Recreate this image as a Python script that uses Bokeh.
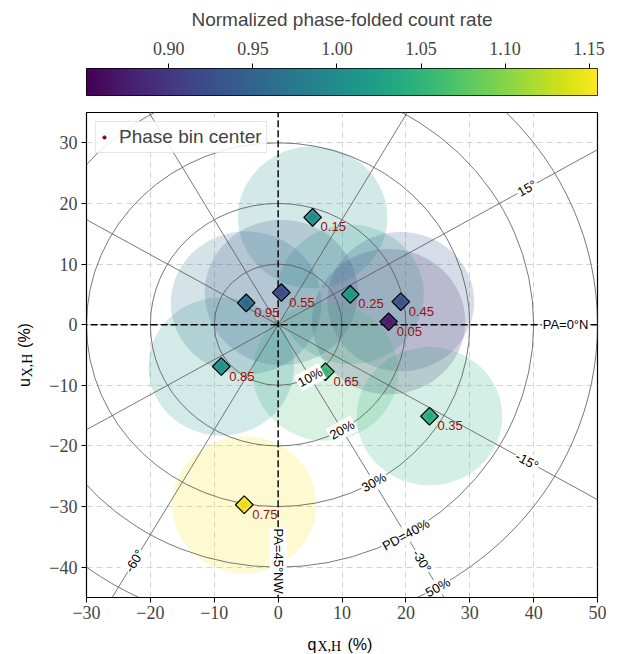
import numpy as np
from bokeh.plotting import figure
from bokeh.models import (ColumnDataSource, LinearColorMapper, Range1d, FixedTicker,
                          NumeralTickFormatter, Legend, LegendItem)
from bokeh.layouts import column, row
from bokeh.palettes import Viridis256
from bokeh.transform import linear_cmap
from bokeh.core.properties import value
from bokeh.embed import file_html
from bokeh.resources import INLINE

# ---------------- data ----------------
phase = ["0.05", "0.15", "0.25", "0.35", "0.45", "0.55", "0.65", "0.75", "0.85", "0.95"]
q_pct = [17.3, 5.4, 11.3, 23.7, 19.2, 0.5, 7.4, -5.3, -8.9, -5.0]
u_pct = [0.5, 17.7, 5.0, -15.1, 3.8, 5.3, -7.75, -29.7, -6.9, 3.6]
rate = [0.875, 1.003, 1.020, 1.043, 0.933, 0.924, 1.058, 1.150, 1.009, 0.960]
err_radius = [12.0, 11.7, 11.5, 11.4, 11.5, 12.0, 11.4, 11.3, 11.4, 11.8]

rate_low, rate_high = 0.851, 1.155
cbar_ticks = [0.90, 0.95, 1.00, 1.05, 1.10, 1.15]

x_ticks = [-30, -20, -10, 0, 10, 20, 30, 40, 50]
y_ticks = [-40, -30, -20, -10, 0, 10, 20, 30]
x_lim = (-30, 50)
y_lim = (-45, 35)

pd_radii = [10, 20, 30, 40, 50]
pd_labels = ["10%", "20%", "30%", "PD=40%", "50%"]
pd_label_angle = -60.0          # degrees in q-u plane

pa_line_deg = [15, -15, -30, -60]          # solid PA lines (drawn at 2*PA)
pa_dash_deg = [0, 45]                      # dashed PA lines
pa_labels = ["PA=0°N", "15°", "-15°", "-30°", "-60°", "PA=45°NW"]
pa_label_pos_deg = [0, 30, -30, -60, -120, -90]
pa_label_r = [45, 45, 45, 45, 45, 39]

# ---------------- geometry helpers ----------------
FRAME_L, FRAME_T = 86, 112
FRAME_W, FRAME_H = 511, 485
XS = FRAME_W / (x_lim[1] - x_lim[0])
YS = FRAME_H / (y_lim[1] - y_lim[0])


def screen_angle(deg):
    t = np.deg2rad(deg)
    return np.arctan2(np.sin(t) * YS, np.cos(t) * XS)


def readable(a):
    if a > np.pi / 2 + 1e-6:
        a -= np.pi
    if a < -np.pi / 2 - 1e-6:
        a += np.pi
    return a


def px2x(px):
    return x_lim[0] + (px - FRAME_L) / XS


def py2y(py):
    return y_lim[0] + (FRAME_T + FRAME_H - py) / YS


mapper = LinearColorMapper(palette=Viridis256, low=rate_low, high=rate_high)

SANS = "Liberation Sans"
SERIF = "Liberation Serif"

TOTAL_W = 618
YLAB_W = 40
CB_H = 100
MAIN_H = 527
XLAB_H = 654 - CB_H - MAIN_H

# ---------------- colorbar figure ----------------
cb = figure(width=TOTAL_W, height=CB_H, x_range=Range1d(rate_low, rate_high), y_range=Range1d(0, 1),
            x_axis_location="above", y_axis_location=None,
            output_backend="svg", toolbar_location=None,
            min_border_left=86, min_border_right=21, min_border_top=68, min_border_bottom=5)
grad = np.linspace(rate_low, rate_high, 256).reshape(1, 256)
cb.image(image=[grad], x=rate_low, y=0, dw=rate_high - rate_low, dh=1, color_mapper=mapper)
cb.grid.visible = False
cb.outline_line_color = "black"
cb.outline_line_width = 1
cax = cb.xaxis[0]
cax.ticker = FixedTicker(ticks=cbar_ticks)
cax.formatter = NumeralTickFormatter(format="0.00")
cax.axis_label = "Normalized phase-folded count rate"
cax.axis_label_text_font = SANS
cax.axis_label_text_font_size = "19px"
cax.axis_label_text_font_style = "normal"
cax.axis_label_standoff = 9
cax.major_label_text_font = SERIF
cax.major_label_text_font_size = "18px"
cax.major_label_standoff = 9
cax.major_tick_out = 5
cax.major_tick_in = 0
cax.minor_tick_line_color = None
cax.axis_line_color = None
cb.background_fill_color = "white"
cb.border_fill_color = "white"

# ---------------- main figure ----------------
p = figure(width=TOTAL_W - YLAB_W, height=MAIN_H, x_range=Range1d(*x_lim), y_range=Range1d(*y_lim),
           output_backend="svg", toolbar_location=None,
           min_border_left=FRAME_L - YLAB_W, min_border_right=21, min_border_top=12,
           min_border_bottom=MAIN_H - 12 - FRAME_H)
p.background_fill_color = "white"
p.border_fill_color = "white"
p.outline_line_color = "black"
p.outline_line_width = 1.2

p.xgrid.ticker = FixedTicker(ticks=x_ticks)
p.ygrid.ticker = FixedTicker(ticks=y_ticks)
p.grid.grid_line_color = "#d4d4d4"
p.grid.grid_line_dash = "6 4"
p.grid.grid_line_width = 1

for ax, ticks in ((p.xaxis[0], x_ticks), (p.yaxis[0], y_ticks)):
    ax.ticker = FixedTicker(ticks=ticks)
    ax.major_label_overrides = {t: (("\u2212%d" % -t) if t < 0 else "%d" % t) for t in ticks}
    ax.major_label_text_font = SERIF
    ax.major_label_text_font_size = "18px"
    ax.major_tick_out = 5
    ax.major_tick_in = 0
    ax.minor_tick_line_color = None
    ax.axis_line_color = "black"
p.xaxis.major_label_standoff = 3
p.yaxis.major_label_standoff = 4

src = ColumnDataSource(dict(q=q_pct, u=u_pct, rate=rate, r2=[2 * r for r in err_radius],
                            phase=phase))
cmap = linear_cmap("rate", Viridis256, rate_low, rate_high)

# uncertainty blobs
p.ellipse(x="q", y="u", width="r2", height="r2", source=src, fill_color=cmap,
          fill_alpha=0.2, line_color=None)

# PD rings
p.ellipse(x=0, y=0, width=[2 * r for r in pd_radii], height=[2 * r for r in pd_radii],
          fill_color=None, line_color="#555555", line_width=0.8)

# solid PA lines
L = 200
ang = np.deg2rad(2 * np.array(pa_line_deg, dtype=float))
p.segment(x0=-L * np.cos(ang), y0=-L * np.sin(ang), x1=L * np.cos(ang), y1=L * np.sin(ang),
          line_color="#555555", line_width=0.8)

# dashed PA lines (0 and 45 deg)
angd = np.deg2rad(2 * np.array(pa_dash_deg, dtype=float))
p.segment(x0=-L * np.cos(angd), y0=-L * np.sin(angd), x1=L * np.cos(angd), y1=L * np.sin(angd),
          line_color="black", line_width=1.4, line_dash="7 3")

# phase bin centers (for legend)
dots = p.scatter(x="q", y="u", source=src, size=6, color="darkred")

# diamonds
p.scatter(x="q", y="u", source=src, marker="square", angle=np.pi / 4, size=12.5,
          fill_color=cmap, fill_alpha=0.95, line_color="black", line_width=1.2)

# phase labels
p.text(x="q", y="u", text="phase", source=src, x_offset=8, y_offset=5,
       text_align="left", text_baseline="top", text_color="#9a0f0f",
       text_font=value(SANS), text_font_size="13px")

# PD labels
pd_t = np.deg2rad(pd_label_angle)
pd_src = ColumnDataSource(dict(
    x=[r * np.cos(pd_t) for r in pd_radii],
    y=[r * np.sin(pd_t) for r in pd_radii],
    text=pd_labels,
    angle=[readable(screen_angle(pd_label_angle + 90))] * len(pd_radii)))
p.text(x="x", y="y", text="text", angle="angle", source=pd_src,
       text_align="center", text_baseline="middle", text_color="black",
       text_font=value(SANS), text_font_size="13px",
       background_fill_color="white", padding=1)

# PA labels
pa_src = ColumnDataSource(dict(
    x=[r * np.cos(np.deg2rad(a)) for r, a in zip(pa_label_r, pa_label_pos_deg)],
    y=[r * np.sin(np.deg2rad(a)) for r, a in zip(pa_label_r, pa_label_pos_deg)],
    text=pa_labels,
    angle=[readable(screen_angle(a)) if a != -90 else -np.pi / 2 for a in pa_label_pos_deg]))
p.text(x="x", y="y", text="text", angle="angle", source=pa_src,
       text_align="center", text_baseline="middle", text_color="black",
       text_font=value(SANS), text_font_size="13px",
       background_fill_color="white", padding=1)

# legend
legend = Legend(items=[LegendItem(label="Phase bin center", renderers=[dots])],
                location="top_left")
legend.label_text_font = SANS
legend.label_text_font_size = "19px"
legend.border_line_color = "#cccccc"
legend.border_line_width = 1
legend.background_fill_alpha = 0.85
legend.margin = 9
legend.padding = 4
legend.glyph_width = 8
legend.glyph_height = 20
legend.label_standoff = 11
legend.label_height = 20
p.add_layout(legend)


# ---------------- axis-label strips ----------------
def strip(width, height, xr, yr):
    f = figure(width=width, height=height, x_range=xr, y_range=yr,
               x_axis_location=None, y_axis_location=None, output_backend="svg",
               toolbar_location=None, min_border=0)
    f.grid.visible = False
    f.outline_line_color = None
    f.background_fill_color = "white"
    f.border_fill_color = "white"
    return f


# y-label strip: vertical frame aligned with the main frame (data units), x in pixels
ylab = strip(YLAB_W, MAIN_H, Range1d(0, YLAB_W), Range1d(*y_lim))
mid_kw = dict(text_align="center", text_baseline="middle", text_color="black")
ylab.text(x=[24], y=[py2y(382)], text=["u"], angle=np.pi / 2, text_font=value(SANS),
          text_font_size="16px", **mid_kw)
ylab.text(x=[27], y=[py2y(365)], text=["X,H"], angle=np.pi / 2, text_font=value(SERIF),
          text_font_size="14px", **mid_kw)
ylab.text(x=[24], y=[py2y(335)], text=["(%)"], angle=np.pi / 2, text_font=value(SANS),
          text_font_size="16px", **mid_kw)

# x-label strip: horizontal frame aligned with the main frame (data units), y in pixels
lab_kw = dict(text_align="left", text_baseline="alphabetic", text_color="black")
xlab = strip(TOTAL_W, XLAB_H, Range1d(*x_lim), Range1d(0, XLAB_H))
xlab.text(x=[px2x(307)], y=[654 - 644], text=["q"], text_font=value(SANS),
          text_font_size="16px", **lab_kw)
xlab.text(x=[px2x(317)], y=[654 - 646], text=["X,H"], text_font=value(SERIF),
          text_font_size="14px", **lab_kw)
xlab.text(x=[px2x(347)], y=[654 - 644], text=["(%)"], text_font=value(SANS),
          text_font_size="16px", **lab_kw)

layout = column(cb, row(ylab, p, spacing=0), xlab, spacing=0)
open("out.html", "w").write(file_html(layout, INLINE))
